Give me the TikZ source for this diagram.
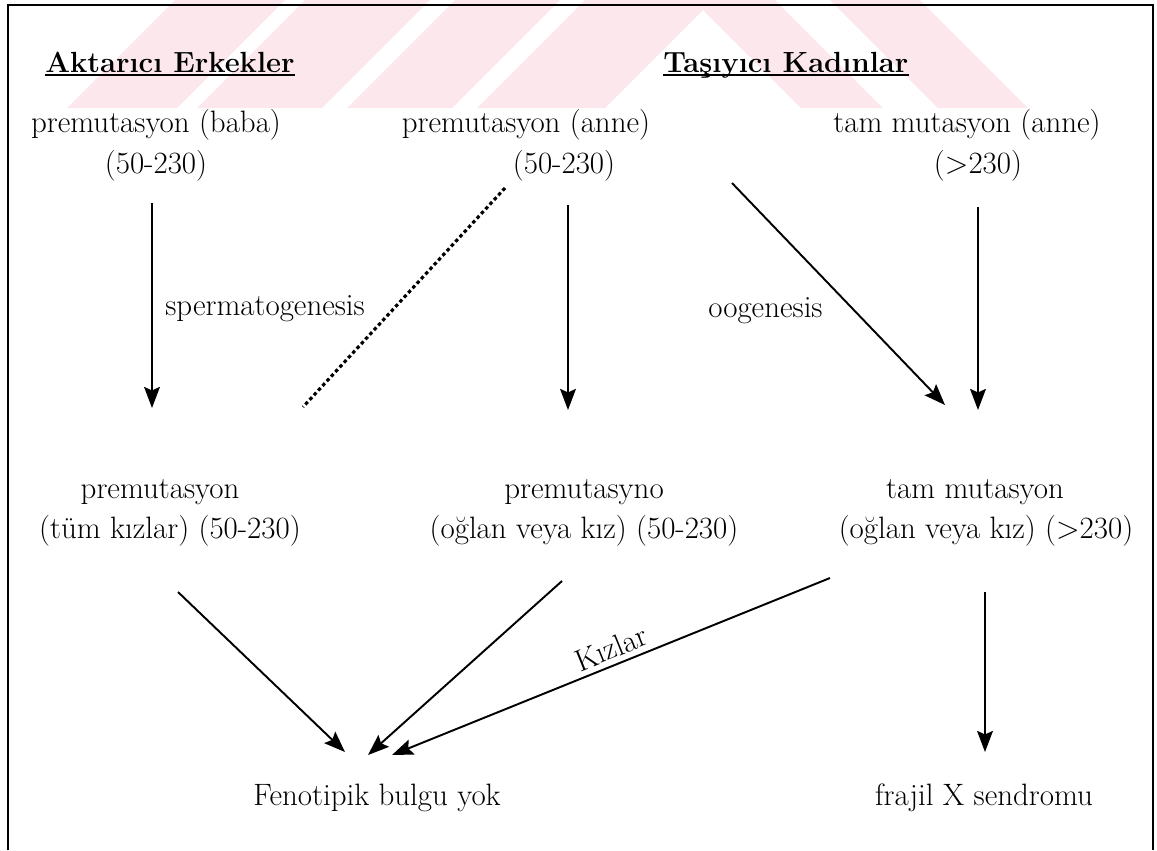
\documentclass[tikz,border=0pt]{standalone}
\usetikzlibrary{arrows.meta}
\definecolor{wm}{RGB}{252,232,236}
\begin{document}
\begin{tikzpicture}[x=0.02cm,y=-0.02cm,
  txt/.style={inner sep=0pt,anchor=base,font=\fontsize{17.6}{20}\selectfont},
  hd/.style={inner sep=0pt,anchor=base west,font=\fontsize{16.6}{20}\selectfont\bfseries},
  arr/.style={line width=1.1pt,-{Stealth[length=12pt,width=9pt,inset=2pt]}},
  frameline/.style={line width=1.2pt},
  ul/.style={line width=0.8pt},
  dashline/.style={line width=1.8pt,dash pattern=on 2pt off 1.6pt}]
\useasboundingbox (0,0) rectangle (1157,850);
% watermark
\begin{scope}
\clip (0,0) rectangle (1157,108);
\foreach \p/\q in {175/285,305/430,455/560,585/713}
  \fill[wm] (\p,0) -- (\q,0) -- (\q-108,108) -- (\p-108,108) -- cycle;
\foreach \p/\q in {693/775,830/920}
  \fill[wm] (\p,0) -- (\q,0) -- (\q+108,108) -- (\p+108,108) -- cycle;
\end{scope}
% frame
\draw[frameline] (8,850) -- (8,5) -- (1153,5) -- (1153,850);
% headings
\node[hd] (h1) at (45,72) {Aktarıcı Erkekler};
\node[hd] (h2) at (663,72) {Taşıyıcı Kadınlar};
\draw[ul] ([yshift=-1.8pt]h1.base west) -- ([yshift=-1.8pt]h1.base east);
\draw[ul] ([yshift=-1.8pt]h2.base west) -- ([yshift=-1.8pt]h2.base east);
% top rows
\node[txt] (pb) at (156,132) {premutasyon (baba)};
\node[txt] (pbn) at (156,173) {(50-230)};
\node[txt] (pa) at (526,132) {premutasyon (anne)};
\node[txt] (pan) at (564,173) {(50-230)};
\node[txt] (ta) at (967,132) {tam mutasyon (anne)};
\node[txt] (tan) at (978,173) {(>230)};
% labels
\node[txt,anchor=base west] (sp) at (165,315) {spermatogenesis};
\node[txt,anchor=base west] (oo) at (708,317) {oogenesis};
% middle rows
\node[txt] (r3a) at (160,498) {premutasyon};
\node[txt] (r3an) at (170,538) {(tüm kızlar) (50-230)};
\node[txt] (r3b) at (584,498) {premutasyno};
\node[txt] (r3bn) at (584,538) {(oğlan veya kız) (50-230)};
\node[txt] (r3c) at (975,498) {tam mutasyon};
\node[txt] (r3cn) at (986,538) {(oğlan veya kız) (>230)};
% bottom
\node[txt] (fb) at (377,805) {Fenotipik bulgu yok};
\node[txt] (fx) at (984,805) {frajil X sendromu};
% connector ends
\coordinate (a1s) at (152,203); \coordinate (a1e) at (152,408);
\coordinate (a2s) at (568,205); \coordinate (a2e) at (568,410);
\coordinate (a3s) at (978,207); \coordinate (a3e) at (978,410);
\coordinate (a4s) at (732,183); \coordinate (a4e) at (945,405);
\coordinate (d1s) at (505,188); \coordinate (d1e) at (303,407);
\coordinate (b1s) at (178,592); \coordinate (b1e) at (345,752);
\coordinate (b2s) at (562,581); \coordinate (b2e) at (368,755);
\coordinate (b3s) at (830,578); \coordinate (b3e) at (392,755);
\coordinate (b4s) at (985,592); \coordinate (b4e) at (985,752);
% connectors
\draw[arr] (a1s) -- (a1e);
\draw[arr] (a2s) -- (a2e);
\draw[arr] (a3s) -- (a3e);
\draw[arr] (a4s) -- (a4e);
\draw[dashline] (d1s) -- (d1e);
\draw[arr] (b1s) -- (b1e);
\draw[arr] (b2s) -- (b2e);
\draw[arr] (b3s) -- (b3e);
\draw[arr] (b4s) -- (b4e);
\node[txt,rotate=22] (kz) at (615,658) {Kızlar};
\end{tikzpicture}
\end{document}
